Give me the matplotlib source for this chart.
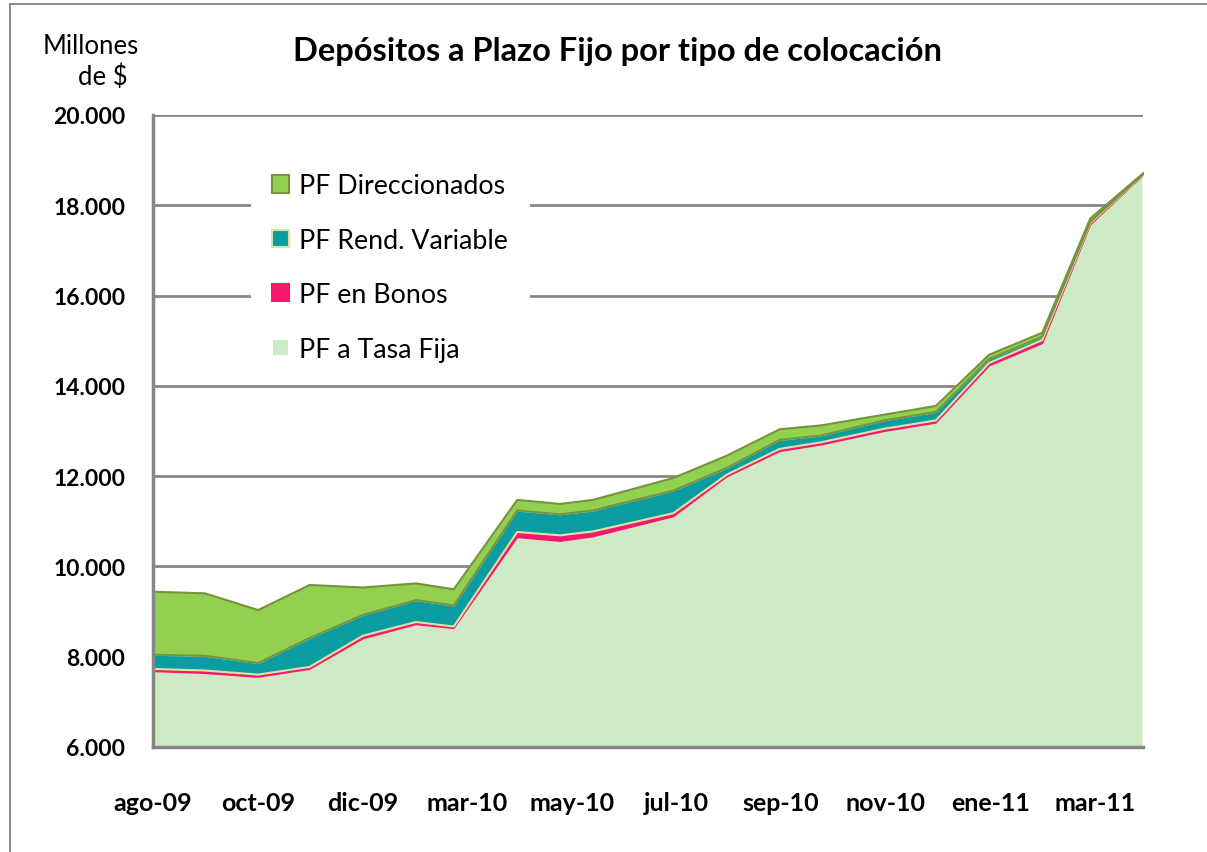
import matplotlib
matplotlib.use("Agg")
import matplotlib.pyplot as plt
from matplotlib.lines import Line2D
import numpy as np
import pandas as pd

# Datos (millones de $)
fechas = pd.to_datetime([
    "2009-08-31", "2009-09-30", "2009-10-31", "2009-11-30", "2009-12-31",
    "2010-01-31", "2010-02-22", "2010-03-31", "2010-04-25", "2010-05-14",
    "2010-06-30", "2010-07-31", "2010-08-31", "2010-09-24", "2010-10-31",
    "2010-11-30", "2010-12-31", "2011-01-31", "2011-02-28", "2011-03-31",
])
tasa_fija = [7690, 7650, 7565, 7740, 8415, 8730, 8645, 10660, 10575, 10675,
             11120, 12000, 12565, 12710, 13010, 13195, 14460, 14955, 17585, 18690]
bonos = [50, 55, 50, 45, 60, 50, 35, 115, 125, 110,
         70, 42, 50, 50, 52, 50, 57, 70, 30, 8]
rend_variable = [315, 325, 255, 640, 460, 485, 465, 475, 465, 465,
                 500, 150, 200, 150, 185, 187, 88, 75, 30, 8]
direccionados = [1395, 1385, 1175, 1175, 610, 370, 360, 235, 230, 235,
                 280, 270, 235, 225, 127, 135, 95, 88, 75, 20]

etiquetas_x = ["ago-09", "oct-09", "dic-09", "mar-10", "may-10",
               "jul-10", "sep-10", "nov-10", "ene-11", "mar-11"]
valores_y = [6000, 8000, 10000, 12000, 14000, 16000, 18000, 20000]

plt.rcParams["font.family"] = ["Lato", "DejaVu Sans"]

W, H = 1207, 853
fig = plt.figure(figsize=(W / 100, H / 100), dpi=100)
ax = fig.add_axes([153 / W, 1 - 748 / H, (1143 - 153) / W, (748 - 116) / H])

series = [
    ("PF a Tasa Fija", tasa_fija, "#CCEAC4", "white"),
    ("PF en Bonos", bonos, "#F7186D", "#F7186D"),
    ("PF Rend. Variable", rend_variable, "#0A9CA1", "#D7E4A2"),
    ("PF Direccionados", direccionados, "#92D050", "#77933C"),
]

base = np.zeros(len(fechas))
handles = []
for label, vals, fc, ec in series:
    top = base + np.array(vals)
    h = ax.fill_between(fechas, base, top, facecolor=fc, edgecolor=ec,
                        linewidth=1.5, label=label, zorder=2)
    handles.append(h)
    base = top

ax.set_ylim(valores_y[0], valores_y[-1])
ax.set_xlim(fechas[0], fechas[-1])
ax.set_yticks(valores_y)
ax.set_yticklabels([f"{v:,.0f}".replace(",", ".") for v in valores_y],
                   fontweight="bold")
ax.yaxis.grid(True, color="#868686", linewidth=2, zorder=1)
ax.set_axisbelow(True)

ticks = np.datetime64("2009-08-31") + np.arange(len(etiquetas_x)) * np.timedelta64(61, "D")
ax.set_xticks(pd.to_datetime(ticks))
ax.set_xticklabels(etiquetas_x, fontweight="bold")

for s in ["top", "right"]:
    ax.spines[s].set_visible(False)
for s in ["left", "bottom"]:
    ax.spines[s].set_color("#868686")
    ax.spines[s].set_linewidth(2.5)
    ax.spines[s].set_zorder(3)

ax.tick_params(axis="x", direction="in", length=7, width=1.5, color="#868686",
               pad=32, labelsize=18)
ax.tick_params(axis="y", length=0, pad=20, labelsize=16.5)

leg = ax.legend(handles=handles[::-1], loc="upper left",
                bbox_to_anchor=(251 / W, 1 - 153 / H), bbox_transform=fig.transFigure,
                frameon=True, fancybox=False, edgecolor="none", facecolor="white",
                framealpha=1, fontsize=19.3, handlelength=0.6, handleheight=0.6,
                handletextpad=0.4, labelspacing=1.1, borderpad=0.8,
                borderaxespad=0)
leg.set_zorder(5)

fig.text(618 / W, 1 - 52 / H, "Depósitos a Plazo Fijo por tipo de colocación",
         ha="center", va="center", fontsize=23.5, fontweight="bold")
fig.text(91 / W, 1 - 46 / H, "Millones", ha="center", va="center", fontsize=18.5)
fig.text(103 / W, 1 - 77 / H, "de $", ha="center", va="center", fontsize=18.5)

# borde del area del grafico
fig.add_artist(Line2D([10 / W, 10 / W], [0, 1 - 5 / H], transform=fig.transFigure,
                      color="#8C8C8C", linewidth=1.5))
fig.add_artist(Line2D([10 / W, 1], [1 - 5 / H, 1 - 5 / H], transform=fig.transFigure,
                      color="#8C8C8C", linewidth=1.5))

fig.savefig("out.png", dpi=100, facecolor="white")
